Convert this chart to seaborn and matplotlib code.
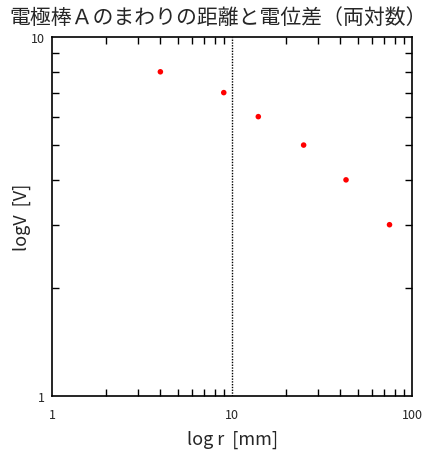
import matplotlib
matplotlib.use("Agg")
import matplotlib.pyplot as plt
import matplotlib.ticker as mticker
import seaborn as sns
import pandas as pd

distance_mm = [4, 9, 14, 25, 43, 75]
potential_v = [8, 7, 6, 5, 4, 3]
x_ticks = [1, 10, 100]
y_ticks = [1, 10]
title = "電極棒Ａのまわりの距離と電位差（両対数）"

sns.set_style("white")
plt.rcParams['font.family'] = ['Noto Sans CJK JP', 'DejaVu Sans']

df = pd.DataFrame({"r": distance_mm, "V": potential_v})

fig = plt.figure(figsize=(4.36, 4.56), dpi=100)
ax = fig.add_axes([52/436, 1-397/456, 360/436, 359/456])

sns.scatterplot(data=df, x="r", y="V", ax=ax, color="red", s=16,
                edgecolor="none", linewidth=0)
ax.set_xscale("log")
ax.set_yscale("log")
ax.set_xlim(1, 100)
ax.set_ylim(1, 10)
ax.axvline(10, color="black", linestyle=(0, (1, 1)), linewidth=1)

ax.xaxis.set_major_locator(mticker.FixedLocator(x_ticks))
ax.yaxis.set_major_locator(mticker.FixedLocator(y_ticks))
ax.xaxis.set_major_formatter(mticker.FixedFormatter([str(t) for t in x_ticks]))
ax.yaxis.set_major_formatter(mticker.FixedFormatter([str(t) for t in y_ticks]))
ax.xaxis.set_minor_locator(mticker.LogLocator(base=10, subs=range(2, 10)))
ax.yaxis.set_minor_locator(mticker.LogLocator(base=10, subs=range(2, 10)))
ax.xaxis.set_minor_formatter(mticker.NullFormatter())
ax.yaxis.set_minor_formatter(mticker.NullFormatter())

ax.tick_params(which="both", direction="in", top=True, right=True,
               bottom=True, left=True, color="black", width=1)
ax.tick_params(which="major", length=0, labelsize=9)
ax.tick_params(axis="x", which="major", pad=9)
ax.tick_params(axis="y", which="major", pad=5)
ax.tick_params(which="minor", length=5)
for s in ax.spines.values():
    s.set_color("black")
    s.set_linewidth(1.2)

ax.set_xlabel("log r  [mm]", fontsize=13)
ax.set_ylabel("logV  [V]", fontsize=13)
ax.xaxis.set_label_coords(180/360, -(440-397)/359)
ax.yaxis.set_label_coords(-(52-22)/360, 0.5)
ax.xaxis.label.set_va("center")
ax.yaxis.label.set_va("center")
fig.text(218/436, 1-18/456, title, ha="center", va="center", fontsize=15)

fig.savefig("out.png", dpi=100, facecolor="white")
